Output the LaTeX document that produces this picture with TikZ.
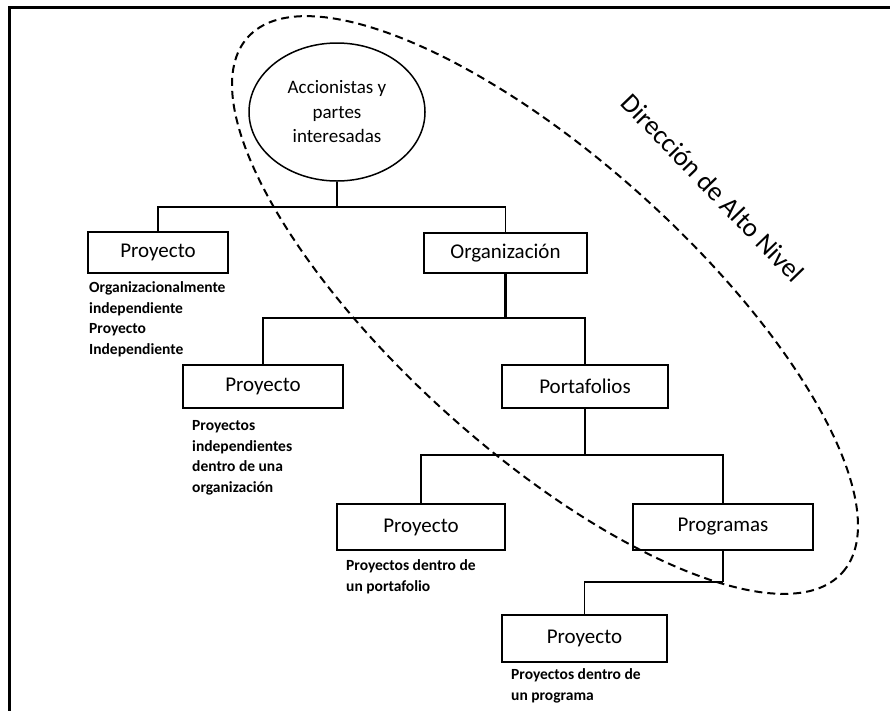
\documentclass[tikz,border=0pt]{standalone}
\usepackage{fontspec}
\setmainfont{Carlito}
\usetikzlibrary{shapes.geometric}
\tikzset{
  box/.style={draw, line width=1.5pt, inner sep=0pt, font=\fontsize{21}{25}\selectfont},
  note/.style={anchor=north west, inner sep=0pt, align=left, font=\bfseries\fontsize{15.5}{20.5}\selectfont},
  conn/.style={line width=1.7pt},
  connthick/.style={line width=2.4pt},
  frame/.style={line width=2.2pt},
  scope oval/.style={dash pattern=on 8pt off 5pt, line width=2pt}
}
\begin{document}
\begin{tikzpicture}[x=1pt,y=-1pt]
\useasboundingbox (0,0) rectangle (890,710);
% frame (cropped)
\draw[frame] (9.5,712) -- (9.5,7.5) -- (892,7.5);

% dashed oval
\draw[scope oval, rotate around={-42:(545,305)}] (545,305) ellipse [x radius=400pt, y radius=146pt];
\node[rotate=-46, font=\fontsize{27}{30}\selectfont] (dir) at (713,188) {Dirección de Alto Nivel};

% nodes
\node[draw, ellipse, line width=1.5pt, minimum width=176pt, minimum height=138pt, inner sep=0pt, align=center,
      font=\fontsize{19}{24.5}\selectfont] (root) at (337,112) {Accionistas y\\partes\\interesadas};
\node[box, minimum width=140pt, minimum height=41pt] (p1) at (158,252.5) {Proyecto};
\node[box, minimum width=163pt, minimum height=40pt] (org) at (505.5,253) {Organización};
\node[box, minimum width=160pt, minimum height=43pt] (p2) at (263,386.5) {Proyecto};
\node[box, minimum width=166pt, minimum height=43pt] (port) at (585,386.5) {Portafolios};
\node[box, minimum width=168pt, minimum height=46pt] (p3) at (421,527) {Proyecto};
\node[box, minimum width=180pt, minimum height=46pt] (prog) at (723,527) {Programas};
\node[box, minimum width=165pt, minimum height=47pt] (p4) at (584.5,638.5) {Proyecto};

% notes
\node[note] (n1) at (89,281.5) {Organizacionalmente\\independiente\\Proyecto\\Independiente};
\node[note] (n2) at (192,420.5) {Proyectos\\independientes\\dentro de una\\organización};
\node[note] (n3) at (346,559.5) {Proyectos dentro de\\un portafolio};
\node[note] (n4) at (511,668.5) {Proyectos dentro de\\un programa};

% connectors
\coordinate (j1) at (337,207);
\coordinate (j2) at (505.5,318);
\coordinate (j3) at (585,455);
\coordinate (j4) at (723,582);
\draw[connthick] (root.south) -- (j1);
\draw[conn] (p1.north) |- (j1) -| (org.north);
\draw[connthick] (org.south) -- (j2);
\draw[conn] (p2.north) |- (j2) -| (port.north);
\draw[conn] (port.south) -- (j3);
\draw[connthick] (p3.north) |- (j3) -| (prog.north);
\draw[conn] (prog.south) -- (j4);
\draw[conn] (p4.north) |- (j4);
\end{tikzpicture}
\end{document}
